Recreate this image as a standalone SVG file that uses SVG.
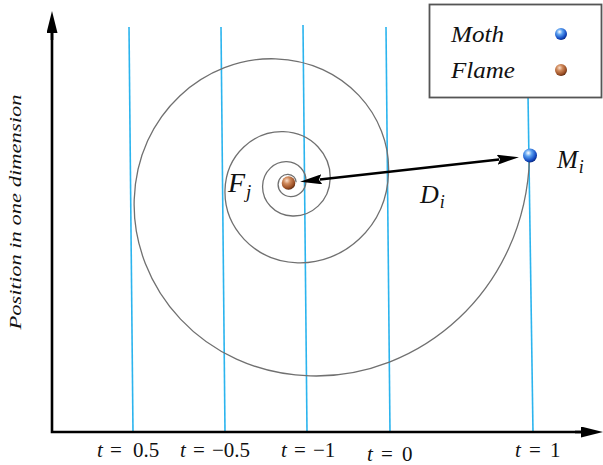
<svg xmlns="http://www.w3.org/2000/svg" width="603" height="465" viewBox="0 0 603 465">
<style>
.t{stroke:#2bb4ee;stroke-width:1.6;fill:none}
.sp{stroke:#707070;stroke-width:1.3;fill:none}
.ax{stroke:#000;stroke-width:2.6;fill:none}
.lbl{font-family:"Liberation Serif","Times New Roman",serif;fill:#111}
.it{font-style:italic}
</style>
<defs>
<marker id="ah" viewBox="0 0 22 10" refX="2" refY="5" markerWidth="22" markerHeight="10" markerUnits="userSpaceOnUse" orient="auto-start-reverse">
<path d="M0,0 L22,5 L0,10 L3,5 z" fill="#000"/>
</marker>
<marker id="axh" viewBox="0 0 22 11" refX="2" refY="5.5" markerWidth="22" markerHeight="11" markerUnits="userSpaceOnUse" orient="auto">
<path d="M0,0 L22,5.5 L0,11 z" fill="#000"/>
</marker>
<radialGradient id="gb" cx="0.38" cy="0.32" r="0.7">
<stop offset="0" stop-color="#ffffff"/>
<stop offset="0.35" stop-color="#5aa0f0"/>
<stop offset="0.8" stop-color="#1248c0"/>
<stop offset="1" stop-color="#0a2a80"/>
</radialGradient>
<radialGradient id="gf" cx="0.38" cy="0.32" r="0.7">
<stop offset="0" stop-color="#fbe0cc"/>
<stop offset="0.35" stop-color="#d08a5c"/>
<stop offset="0.8" stop-color="#9a4e24"/>
<stop offset="1" stop-color="#5a2a10"/>
</radialGradient>
</defs>

<g id="time-lines">
<line class="t" x1="129" y1="27" x2="133" y2="432"/>
<line class="t" x1="221" y1="27" x2="225" y2="432"/>
<line class="t" x1="303" y1="25" x2="307" y2="432"/>
<line class="t" x1="386" y1="27" x2="390" y2="432"/>
<line class="t" x1="527" y1="27" x2="533" y2="432"/>
</g>

<g id="spiral">
<path class="sp" d="M529.6,156.9 C525.3,291.9 418.2,379.3 310.0,375.9 C201.8,372.5 131.5,286.6 134.2,199.8 C136.9,113.0 205.9,56.6 275.5,58.8 C345.1,61.0 390.4,116.4 388.6,172.2 C386.8,228.0 342.4,264.2 297.7,262.8 C253.0,261.4 223.9,225.9 225.0,190.0 C226.1,154.1 254.5,130.7 283.4,131.6 C312.3,132.5 330.9,155.4 330.2,178.5 C329.5,201.6 311.1,216.6 292.6,216.0 C274.1,215.4 262.1,200.7 262.6,185.9 C263.1,171.1 274.8,161.3 286.7,161.7 C298.6,162.1 306.3,171.7 306.0,181.2 C305.7,190.7 298.2,196.8 290.5,196.6 C282.8,196.4 277.9,190.4 278.1,184.2 C278.3,178.0 283.1,174.1 288.0,174.3 C292.9,174.5 296.2,178.3 296.1,182.2"/>
</g>

<g id="connectors">
<line x1="319.9" y1="179.55" x2="499.1" y2="159.45" stroke="#000" stroke-width="2.5" marker-start="url(#ah)" marker-end="url(#ah)"/>
</g>

<g id="flame">
<circle cx="288.5" cy="183" r="6.8" fill="url(#gf)"/>
<text class="lbl" x="228" y="192" font-size="28"><tspan class="it">F</tspan><tspan class="it" font-size="19" dx="1" dy="6">j</tspan></text>
</g>

<g id="moth">
<circle cx="530" cy="155.5" r="7" fill="url(#gb)"/>
<text class="lbl" x="557" y="168" font-size="25"><tspan class="it">M</tspan><tspan class="it" font-size="18" dx="1" dy="5">i</tspan></text>
</g>

<g id="distance-label">
<text class="lbl" x="420" y="203" font-size="26"><tspan class="it">D</tspan><tspan class="it" font-size="18" dx="1" dy="5">i</tspan></text>
</g>

<g id="legend">
<rect x="429.5" y="4.5" width="172" height="93" fill="#fff" stroke="#555" stroke-width="1.8"/>
<text class="lbl it" x="451" y="42" font-size="23" textLength="53" lengthAdjust="spacingAndGlyphs">Moth</text>
<text class="lbl it" x="451" y="78" font-size="23" textLength="64" lengthAdjust="spacingAndGlyphs">Flame</text>
<circle cx="561" cy="34" r="6" fill="url(#gb)"/>
<circle cx="561" cy="70" r="6" fill="url(#gf)"/>
</g>

<g id="axes">
<path class="ax" d="M52,31 L52,432 L583,432"/>
<line x1="52" y1="40" x2="52" y2="31" stroke="#000" stroke-width="2.6" marker-end="url(#axh)"/>
<line x1="575" y1="432" x2="583" y2="432" stroke="#000" stroke-width="2.6" marker-end="url(#axh)"/>
<text class="lbl it" transform="translate(21,212) rotate(-90)" text-anchor="middle" font-size="16" textLength="235" lengthAdjust="spacingAndGlyphs">Position in one dimension</text>
</g>

<g id="t-labels" class="lbl" font-size="21">
<text y="457"><tspan class="it" x="97">t</tspan><tspan x="110">=</tspan><tspan x="133">0.5</tspan></text>
<text y="457"><tspan class="it" x="180">t</tspan><tspan x="193">=</tspan><tspan x="212">−0.5</tspan></text>
<text y="457"><tspan class="it" x="281">t</tspan><tspan x="294">=</tspan><tspan x="313">−1</tspan></text>
<text y="461"><tspan class="it" x="367">t</tspan><tspan x="381">=</tspan><tspan x="402">0</tspan></text>
<text y="457"><tspan class="it" x="515">t</tspan><tspan x="529">=</tspan><tspan x="550">1</tspan></text>
</g>
</svg>
